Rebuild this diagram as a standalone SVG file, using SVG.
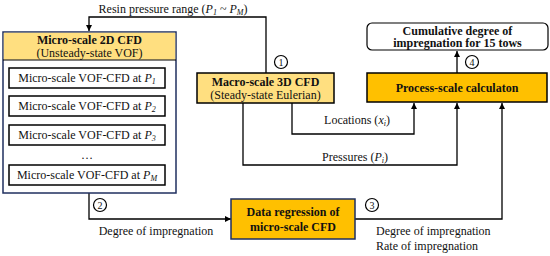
<svg xmlns="http://www.w3.org/2000/svg" width="550" height="256" viewBox="0 0 550 256">
<defs>
<marker id="ah" viewBox="0 0 10 10" refX="10" refY="5" markerWidth="6" markerHeight="6" orient="auto" markerUnits="userSpaceOnUse"><path d="M0,0L10,5L0,10z" fill="#000"/></marker>
<style>
text{font-family:"Liberation Serif","DejaVu Serif",serif;font-size:12px;fill:#111}
.b{font-weight:bold}
.c{text-anchor:middle}
.ln{fill:none;stroke:#000;stroke-width:1.3}
.circ{fill:#fff;stroke:#000;stroke-width:1.2}
.num{font-size:10px;text-anchor:middle}
.inner{fill:#fff;stroke:#000;stroke-width:1.5}
</style>
</defs>
<rect width="550" height="256" fill="#fff"/>
<g id="connectors" font-family="Liberation Serif, serif">
<path class="ln" d="M266,73V17H89V31" marker-end="url(#ah)"/>
<path class="ln" d="M292,103V134H414V103" marker-end="url(#ah)"/>
<path class="ln" d="M243,103V165H457V103" marker-end="url(#ah)"/>
<path class="ln" d="M89,193V219H231" marker-end="url(#ah)"/>
<path class="ln" d="M355,219H502V103" marker-end="url(#ah)"/>
<path class="ln" d="M457,73V51" marker-end="url(#ah)"/>
<text x="173" y="13" class="c">Resin pressure range (<tspan font-style="italic">P</tspan><tspan font-style="italic" font-size="8" dy="2">1</tspan><tspan dy="-2"> ~ </tspan><tspan font-style="italic">P</tspan><tspan font-style="italic" font-size="8" dy="2">M</tspan><tspan dy="-2">)</tspan></text>
<text x="357" y="124" class="c">Locations (<tspan font-style="italic">x</tspan><tspan font-style="italic" font-size="8" dy="2">i</tspan><tspan dy="-2">)</tspan></text>
<text x="355" y="161" class="c">Pressures (<tspan font-style="italic">P</tspan><tspan font-style="italic" font-size="8" dy="2">i</tspan><tspan dy="-2">)</tspan></text>
<text x="156" y="235" class="c">Degree of impregnation</text>
<text x="376" y="235">Degree of impregnation</text>
<text x="376" y="250">Rate of impregnation</text>
<circle class="circ" cx="281" cy="62" r="6.5"/><text x="281" y="65.5" class="num">1</text>
<circle class="circ" cx="100" cy="205" r="6.5"/><text x="100" y="208.5" class="num">2</text>
<circle class="circ" cx="372" cy="205" r="6.5"/><text x="372" y="208.5" class="num">3</text>
<circle class="circ" cx="472" cy="62" r="6.5"/><text x="472" y="65.5" class="num">4</text>
</g>
<g id="micro2d">
<rect x="3" y="32" width="173" height="161" fill="#fff" stroke="#1f2f5f" stroke-width="1.5"/>
<rect x="3.75" y="32.75" width="171.5" height="27" fill="#ffdf80"/>
<line x1="3" y1="60" x2="176" y2="60" stroke="#000" stroke-width="1"/>
<text x="89.5" y="44" class="c b">Micro-scale 2D CFD</text>
<text x="89.5" y="57" class="c">(Unsteady-state VOF)</text>
</g>
<g id="p1"><rect class="inner" x="9" y="68" width="156" height="20"/><text x="87" y="82" class="c">Micro-scale VOF-CFD at <tspan font-style="italic">P</tspan><tspan font-style="italic" font-size="8" dy="2">1</tspan></text></g>
<g id="p2"><rect class="inner" x="9" y="96" width="156" height="20"/><text x="87" y="110" class="c">Micro-scale VOF-CFD at <tspan font-style="italic">P</tspan><tspan font-style="italic" font-size="8" dy="2">2</tspan></text></g>
<g id="p3"><rect class="inner" x="9" y="125" width="156" height="20"/><text x="87" y="139" class="c">Micro-scale VOF-CFD at <tspan font-style="italic">P</tspan><tspan font-style="italic" font-size="8" dy="2">3</tspan></text></g>
<text x="87" y="159" class="c">…</text>
<g id="pM"><rect class="inner" x="9" y="165" width="156" height="20"/><text x="87" y="179" class="c">Micro-scale VOF-CFD at <tspan font-style="italic">P</tspan><tspan font-style="italic" font-size="8" dy="2">M</tspan></text></g>
<g id="macro3d">
<rect x="197" y="73" width="137" height="30" fill="#ffdf80" stroke="#000" stroke-width="1.5"/>
<text x="265.5" y="86" class="c b">Macro-scale 3D CFD</text>
<text x="265.5" y="99" class="c">(Steady-state Eulerian)</text>
</g>
<g id="process">
<rect x="367" y="73" width="180" height="29" fill="#ffc000" stroke="#000" stroke-width="1.5"/>
<text x="457" y="92" class="c b">Process-scale calculaton</text>
</g>
<g id="cumulative">
<rect x="367" y="23" width="181" height="27" rx="5" fill="#fff" stroke="#000" stroke-width="1.2"/>
<text x="457.5" y="34.5" class="c b">Cumulative degree of</text>
<text x="457.5" y="47" class="c b">impregnation for 15 tows</text>
</g>
<g id="regression">
<rect x="231" y="199" width="124" height="40" fill="#ffc000" stroke="#1f2f5f" stroke-width="1.5"/>
<text x="293" y="216" class="c b">Data regression of</text>
<text x="293" y="231" class="c b">micro-scale CFD</text>
</g>
</svg>
